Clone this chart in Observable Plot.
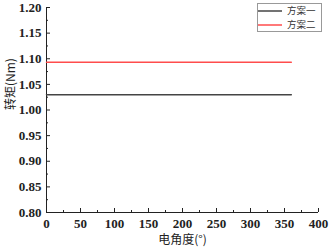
<!DOCTYPE html>
<html><head><meta charset="utf-8">
<script src="https://cdn.jsdelivr.net/npm/d3@7"></script>
<script src="https://cdn.jsdelivr.net/npm/@observablehq/plot@0.6"></script>
<style>
body{margin:0;background:#fff;}
#wrap{position:relative;width:330px;height:247px;}
#legend{position:absolute;left:257px;top:3px;}
</style>
</head><body>
<div id="wrap"></div>
<script>
const series = ["方案一","方案二"];
const colors = ["#444444","#ff4d4d"];
const angles = [0, 360];
const torque1 = [1.030, 1.030];
const torque2 = [1.093, 1.093];
const xTicks = [0,50,100,150,200,250,300,350,400];
const yTicks = [0.80,0.85,0.90,0.95,1.00,1.05,1.10,1.15,1.20];
const xMinor = [25,75,125,175,225,275,325,375];
const yMinor = [0.825,0.875,0.925,0.975,1.025,1.075,1.125,1.175];
const xLabel = "电角度(°)";
const yLabel = "转矩(Nm)";

const data = [];
angles.forEach((a,i)=>{ data.push({s:series[0],x:a,y:torque1[i]}); data.push({s:series[1],x:a,y:torque2[i]}); });

const font = '"Liberation Serif","Noto Sans CJK SC",serif';
const chart = Plot.plot({
  width:330, height:247,
  marginLeft:46, marginRight:12, marginTop:7, marginBottom:35,
  style:{fontFamily:font, fontSize:"13px", color:"#222", background:"#fff"},
  x:{domain:[0,400]},
  y:{domain:[0.8,1.2]},
  color:{domain:series, range:colors},
  marks:[
    Plot.ruleY([0.8],{stroke:"#222",strokeWidth:1}),
    Plot.ruleX([0],{stroke:"#222",strokeWidth:1}),
    Plot.axisX({ticks:xTicks, tickSize:-4, tickPadding:10, tickFormat:d=>d, fontWeight:"bold", label:null}),
    Plot.axisX({ticks:xMinor, tickSize:-2, tickFormat:()=>"", label:null}),
    Plot.axisY({ticks:yTicks, tickSize:-4, tickPadding:9, tickFormat:d=>d.toFixed(2), fontWeight:"bold", label:null}),
    Plot.axisY({ticks:yMinor, tickSize:-2, tickFormat:()=>"", label:null}),
    Plot.text([xLabel],{frameAnchor:"bottom", dy:31, text:d=>d, fontSize:12, fill:"#222", fontFamily:'"Noto Sans CJK SC",serif'}),
    Plot.text([yLabel],{frameAnchor:"left", dx:-35, rotate:-90, text:d=>d, fontSize:12, fill:"#222", fontFamily:'"Noto Sans CJK SC",serif'}),
    Plot.line(data,{x:"x",y:"y",z:"s",stroke:"s",strokeWidth:1.5})
  ]
});
const wrap = document.getElementById("wrap");
wrap.appendChild(chart);
const NS="http://www.w3.org/2000/svg";
const lg=document.createElementNS(NS,"svg");
lg.setAttribute("id","legend");
lg.setAttribute("width",66); lg.setAttribute("height",30);
const rect=document.createElementNS(NS,"rect");
rect.setAttribute("x",0.5);rect.setAttribute("y",0.5);rect.setAttribute("width",64);rect.setAttribute("height",28);
rect.setAttribute("fill","#fff");rect.setAttribute("stroke","#999");
lg.appendChild(rect);
series.forEach((s,i)=>{
  const cy=8+i*14;
  const ln=document.createElementNS(NS,"line");
  ln.setAttribute("x1",1);ln.setAttribute("x2",25);ln.setAttribute("y1",cy);ln.setAttribute("y2",cy);
  ln.setAttribute("stroke",colors[i]);ln.setAttribute("stroke-width",1.5);
  lg.appendChild(ln);
  const t=document.createElementNS(NS,"text");
  t.setAttribute("x",30);t.setAttribute("y",cy);t.setAttribute("dy","0.35em");
  t.setAttribute("font-size",9.5);t.setAttribute("fill","#333");
  t.setAttribute("font-family",'"Noto Sans CJK SC",serif');
  t.textContent=s;
  lg.appendChild(t);
});
wrap.appendChild(lg);
</script>
</body></html>
